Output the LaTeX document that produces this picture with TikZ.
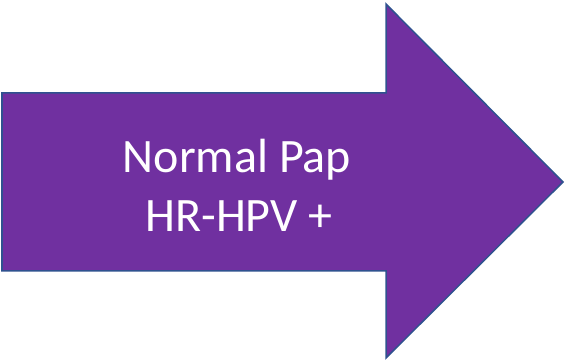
\documentclass[tikz,border=0pt]{standalone}
\usepackage{fontspec}
\setmainfont{Carlito}
\usetikzlibrary{positioning}
\definecolor{arrowpurple}{HTML}{7030A0}
\definecolor{arrowedge}{HTML}{2F528F}

\begin{document}
\begin{tikzpicture}[x=1pt, y=1pt]
  \useasboundingbox (0,0) rectangle (566,361);
  % big arrow
  \draw[fill=arrowpurple, draw=arrowedge, line width=1.5pt, line join=miter]
    (2,268) -- (386,268) -- (386,357) -- (563,179) -- (386,3)
    -- (386,90) -- (2,90) -- cycle;
  % label
  \node[white, font=\fontsize{48}{58}\selectfont, anchor=base, inner sep=0pt]
    (line1) at (237,188) {Normal Pap};
  \node[white, font=\fontsize{48}{58}\selectfont, anchor=base, inner sep=0pt]
    (line2) at (239,129) {HR-HPV +};
\end{tikzpicture}
\end{document}
